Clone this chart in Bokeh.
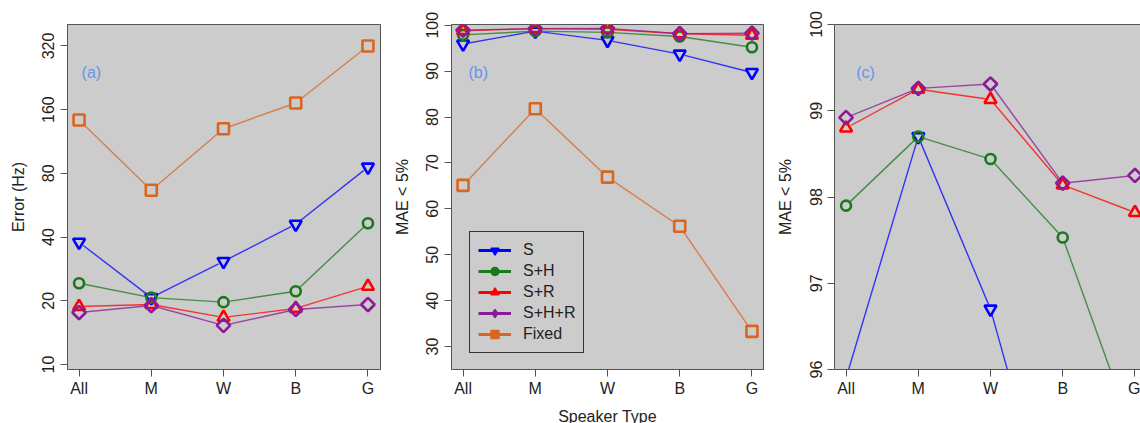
import math
from bokeh.plotting import figure
from bokeh.layouts import row
from bokeh.models import (Range1d, FixedTicker, PrintfTickFormatter, Label, Legend,
                          LegendItem, ColumnDataSource, LinearAxis)
from bokeh.embed import file_html
from bokeh.resources import INLINE

# ---------------- data ----------------
categories = ["All", "M", "W", "B", "G"]
xpos = [1, 2, 3, 4, 5]
series_names = ["S", "S+H", "S+R", "S+H+R", "Fixed"]

err_S = [37.8, 20.7, 30.7, 46.0, 85.6]
err_SH = [24.2, 20.7, 19.7, 22.2, 46.5]
err_SR = [18.8, 19.2, 16.7, 18.4, 23.4]
err_SHR = [17.6, 19.0, 15.3, 18.2, 19.2]
err_Fixed = [143.0, 66.6, 130.0, 172.0, 320.0]

mae_S = [95.9, 98.7, 96.7, 93.7, 89.7]
mae_SH = [97.9, 98.7, 98.44, 97.53, 95.2]
mae_SR = [98.8, 99.25, 99.13, 98.14, 97.82]
mae_SHR = [98.92, 99.26, 99.31, 98.16, 98.25]
mae_Fixed = [65.1, 81.8, 66.9, 56.2, 33.3]

err_ticks = [10, 20, 40, 80, 160, 320]
mae_ticks = [30, 40, 50, 60, 70, 80, 90, 100]
zoom_ticks = [96, 97, 98, 99, 100]

# ---------------- styles ----------------
FONT = "Liberation Sans"
BG = "#cccccc"
AX = "#555555"
colors = ["#0000ff", "#1a7a1a", "#ff0000", "#8b1a96", "#d9661f"]
markers = ["inverted_triangle", "circle", "triangle", "square", "square"]
legend_markers = ["inverted_triangle", "circle", "triangle", "diamond", "square"]
angles = [0, 0, 0, math.pi / 4, 0]
sizes = [12, 10, 12, 9.5, 11]
PANEL_COL = "#6495ed"


def style_axes(p, yticks):
    p.xaxis.ticker = FixedTicker(ticks=xpos)
    p.xaxis.major_label_overrides = {x: c for x, c in zip(xpos, categories)}
    p.yaxis.ticker = FixedTicker(ticks=yticks)
    for ax in p.xaxis + p.yaxis:
        ax.axis_line_color = AX
        ax.major_tick_line_color = AX
        ax.minor_tick_line_color = None
        ax.major_tick_out = 7
        ax.major_tick_in = 0
        ax.major_label_text_font = FONT
        ax.major_label_text_font_size = "16px"
        ax.major_label_text_color = "#222222"
        ax.axis_label_text_font = FONT
        ax.axis_label_text_font_size = "16px"
        ax.axis_label_text_font_style = "normal"
        ax.axis_label_text_color = "#222222"
    p.xaxis.major_label_standoff = 3
    p.yaxis.major_label_standoff = 6
    p.yaxis.major_label_orientation = "parallel"
    p.yaxis.axis_label_standoff = 13
    p.xaxis.axis_label_standoff = 8
    p.grid.visible = False
    p.background_fill_color = BG
    p.border_fill_color = "white"


def draw_series(p, ys):
    # lines first
    for y, c in zip(ys, colors):
        p.line(xpos, y, line_color=c, line_width=1.4, line_alpha=0.75)
    # gaps around the points (like type="b")
    for y in ys:
        p.scatter(xpos, y, marker="circle", size=11, fill_color=BG, line_color=None)
    # open markers
    for y, c, m, a, s in zip(ys, colors, markers, angles, sizes):
        p.scatter(xpos, y, marker=m, angle=a, size=s, fill_color=None,
                  line_color=c, line_width=2.6)


def make_fig(y_range, frame_width, left, right, y_type="linear"):
    p = figure(frame_width=frame_width, frame_height=345,
               min_border_left=left, min_border_right=right,
               min_border_top=24, min_border_bottom=54,
               x_range=Range1d(0.84, 0.84 + frame_width * 4.32 / 312),
               y_range=y_range, y_axis_type=y_type,
               output_backend="svg", toolbar_location=None)
    return p


# ---------------- panel (a) ----------------
pa = make_fig(Range1d(9.47, 404), 313, 67, 5, y_type="log")
style_axes(pa, err_ticks)
pa.yaxis.formatter = PrintfTickFormatter(format="%d")
pa.yaxis.axis_label = "Error (Hz)"
pa.outline_line_color = AX
pa.outline_line_alpha = 1.0
draw_series(pa, [err_S, err_SH, err_SR, err_SHR, err_Fixed])
pa.add_layout(Label(x=1.17, y=240, text="(a)", text_font=FONT, text_font_size="16px",
                    text_color=PANEL_COL, text_align="center", text_baseline="middle"))

# ---------------- panel (b) ----------------
pb = make_fig(Range1d(25.0, 100.15), 312, 66, 5)
style_axes(pb, mae_ticks)
pb.yaxis.axis_label = "MAE < 5%"
pb.xaxis.axis_label = "Speaker Type"
pb.outline_line_color = AX
pb.outline_line_alpha = 1.0
draw_series(pb, [mae_S, mae_SH, mae_SR, mae_SHR, mae_Fixed])
pb.add_layout(Label(x=1.21, y=89.7, text="(b)", text_font=FONT, text_font_size="16px",
                    text_color=PANEL_COL, text_align="center", text_baseline="middle"))

# legend with filled markers (legend-only renderers placed outside the view)
items = []
for name, c, m, s in zip(series_names, colors, legend_markers, sizes):
    off = dict(x=[-100, -99], y=[50, 50])
    lr = pb.line("x", "y", source=ColumnDataSource(off), line_color=c, line_width=3)
    sr = pb.scatter("x", "y", source=ColumnDataSource(off), marker=m,
                    size=s, fill_color=c, line_color=c, line_width=1.5)
    items.append(LegendItem(label=name, renderers=[lr, sr]))
leg = Legend(items=items, location=(18, 16), background_fill_color=BG,
             background_fill_alpha=1.0, border_line_color="#333333",
             border_line_width=1, border_line_alpha=1.0,
             label_text_font=FONT, label_text_font_size="16px",
             label_text_color="#222222", glyph_width=33, glyph_height=20,
             label_height=20, spacing=1, padding=8, label_standoff=12, margin=0)
pb.add_layout(leg, "center")

# ---------------- panel (c) ----------------
pc = make_fig(Range1d(96.0, 100.0), 306, 66, 0)
style_axes(pc, zoom_ticks)
pc.yaxis.axis_label = "MAE < 5%"
pc.outline_line_color = None
top_axis = LinearAxis(ticker=FixedTicker(ticks=[]), axis_line_color=AX,
                      major_tick_line_color=None, minor_tick_line_color=None,
                      major_label_text_font_size="0px")
pc.add_layout(top_axis, "above")
draw_series(pc, [mae_S, mae_SH, mae_SR, mae_SHR, mae_Fixed])
pc.add_layout(Label(x=1.27, y=99.44, text="(c)", text_font=FONT, text_font_size="16px",
                    text_color=PANEL_COL, text_align="center", text_baseline="middle"))

layout = row(pa, pb, pc, spacing=0)
open("out.html", "w").write(file_html(layout, INLINE))
